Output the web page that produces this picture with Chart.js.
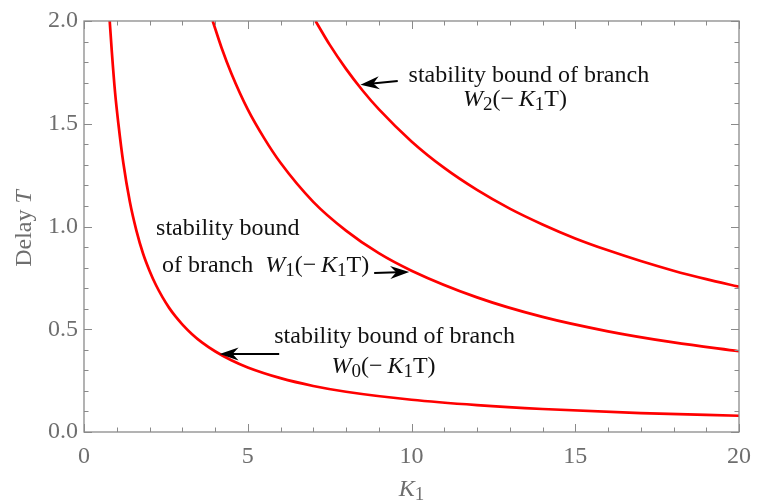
<!DOCTYPE html>
<html>
<head>
<meta charset="utf-8">
<script src="https://cdn.jsdelivr.net/npm/chart.js@4.4.1/dist/chart.umd.min.js"></script>
<style>
  html, body { margin: 0; padding: 0; background: #fff; }
  #wrap { width: 761px; height: 502px; }
</style>
</head>
<body>
<div id="wrap"><canvas id="chart"></canvas></div>
<script>
// valores (K1 -> atraso T)
const k0 = [0.785, 0.85, 0.95, 1.05, 1.2, 1.4, 1.6, 1.8, 2.0, 2.2, 2.4, 2.6, 2.8, 3.0, 3.3, 3.6, 4.0, 4.5, 5, 6, 7, 8, 10, 12, 14, 17, 20];
const t0 = [2.0, 1.85, 1.65, 1.5, 1.31, 1.12, 0.98, 0.87, 0.785, 0.714, 0.655, 0.604, 0.561, 0.524, 0.476, 0.436, 0.393, 0.349, 0.314, 0.262, 0.224, 0.196, 0.157, 0.131, 0.112, 0.092, 0.079];

const k1 = [3.93, 4.2, 4.5, 5, 5.5, 6, 7, 8, 9, 10, 12, 14, 16, 18, 20];
const t1 = [2.0, 1.87, 1.745, 1.57, 1.43, 1.31, 1.12, 0.98, 0.87, 0.785, 0.655, 0.56, 0.49, 0.436, 0.393];

const k2 = [7.07, 7.5, 8, 8.5, 9, 10, 11, 12, 13, 14, 15, 16, 17, 18, 19, 20];
const t2 = [2.0, 1.885, 1.767, 1.663, 1.571, 1.414, 1.285, 1.178, 1.087, 1.01, 0.942, 0.884, 0.832, 0.785, 0.744, 0.707];

const xTicks = [0, 5, 10, 15, 20];
const yTicks = [0, 0.5, 1, 1.5, 2];

const pts = (ks, ts) => ks.map((k, i) => ({ x: k, y: ts[i] }));

// textos das anotações: [texto, estilo] (i = itálico, s = subscrito)
const expr = n => [['W', 'i'], [n, 's'], ['(\u2212\u2009', ''], ['K', 'i'], ['1', 's'], ['T)', '']];
const notes = [
  { x: 9.91, y: 1.703, parts: [['stability bound of branch', '']] },
  { x: 11.57, y: 1.586, parts: expr('2') },
  { x: 2.20, y: 0.959, parts: [['stability bound', '']] },
  { x: 2.38, y: 0.779, parts: [['of branch\u2002', '']].concat(expr('1')) },
  { x: 5.81, y: 0.433, parts: [['stability bound of branch', '']] },
  { x: 7.56, y: 0.287, parts: expr('0') }
];
// setas: [x0, y0, x1, y1] (cauda -> ponta)
const arrows = [
  [9.58, 1.708, 8.44, 1.690],
  [8.86, 0.774, 9.93, 0.779],
  [5.96, 0.380, 4.14, 0.380]
];

const FONT = 'Liberation Serif';
const SIZE = 24;
Chart.defaults.font.family = '"Liberation Serif", serif';

function drawRich(ctx, parts, x, y, color, align) {
  const fontOf = st => {
    const sz = st === 's' ? Math.round(SIZE * 0.8) : SIZE;
    return (st === 'i' ? 'italic ' : '') + sz + 'px "' + FONT + '"';
  };
  let w = 0;
  parts.forEach(([t, st]) => { ctx.font = fontOf(st); w += ctx.measureText(t).width; });
  let cx = align === 'center' ? x - w / 2 : x;
  ctx.fillStyle = color;
  ctx.textBaseline = 'alphabetic';
  ctx.textAlign = 'left';
  parts.forEach(([t, st]) => {
    ctx.font = fontOf(st);
    ctx.fillText(t, cx, st === 's' ? y + 4 : y);
    cx += ctx.measureText(t).width;
  });
}

function arrowHead(ctx, x0, y0, x1, y1) {
  const a = Math.atan2(y1 - y0, x1 - x0);
  const len = 19, half = 6.5, back = 13;
  ctx.save();
  ctx.translate(x1, y1);
  ctx.rotate(a);
  ctx.beginPath();
  ctx.moveTo(0, 0);
  ctx.lineTo(-len, -half);
  ctx.lineTo(-back, 0);
  ctx.lineTo(-len, half);
  ctx.closePath();
  ctx.fill();
  ctx.restore();
}

const decor = {
  id: 'decor',
  afterDraw(chart) {
    const { ctx, chartArea: a, scales: { x, y } } = chart;
    ctx.save();
    // moldura e marcas para dentro
    ctx.strokeStyle = '#8a8a8a';
    ctx.lineWidth = 1.3;
    ctx.strokeRect(a.left, a.top, a.right - a.left, a.bottom - a.top);
    ctx.lineWidth = 1;
    ctx.beginPath();
    for (let v = 0; v <= 20; v++) {
      const px = Math.round(x.getPixelForValue(v)) + 0.5;
      const l = v % 5 === 0 ? 8 : 4.5;
      ctx.moveTo(px, a.bottom); ctx.lineTo(px, a.bottom - l);
      ctx.moveTo(px, a.top); ctx.lineTo(px, a.top + l);
    }
    for (let i = 0; i <= 20; i++) {
      const py = Math.round(y.getPixelForValue(i / 10)) + 0.5;
      const l = i % 5 === 0 ? 8 : 4.5;
      ctx.moveTo(a.left, py); ctx.lineTo(a.left + l, py);
      ctx.moveTo(a.right, py); ctx.lineTo(a.right - l, py);
    }
    ctx.stroke();

    // títulos dos eixos
    drawRich(ctx, [['K', 'i'], ['1', 's']], (a.left + a.right) / 2, 496, '#6e6e6e', 'center');
    ctx.translate(31, (a.top + a.bottom) / 2 + 2);
    ctx.rotate(-Math.PI / 2);
    drawRich(ctx, [['Delay ', ''], ['T', 'i']], 0, 0, '#6e6e6e', 'center');
    ctx.restore();

    // anotações
    ctx.save();
    notes.forEach(n => drawRich(ctx, n.parts, x.getPixelForValue(n.x), y.getPixelForValue(n.y), '#111', 'left'));
    ctx.strokeStyle = '#000';
    ctx.fillStyle = '#000';
    ctx.lineWidth = 2;
    arrows.forEach(([a0, b0, a1, b1]) => {
      const X0 = x.getPixelForValue(a0), Y0 = y.getPixelForValue(b0);
      const X1 = x.getPixelForValue(a1), Y1 = y.getPixelForValue(b1);
      const d = Math.hypot(X1 - X0, Y1 - Y0);
      const f = 12 / d;
      ctx.beginPath();
      ctx.moveTo(X0, Y0);
      ctx.lineTo(X1 + (X0 - X1) * f, Y1 + (Y0 - Y1) * f);
      ctx.stroke();
      arrowHead(ctx, X0, Y0, X1, Y1);
    });
    ctx.restore();
  }
};

const curve = data => ({
  data,
  borderColor: '#ff0000',
  borderWidth: 2.7,
  pointRadius: 0,
  fill: false,
  cubicInterpolationMode: 'monotone'
});

new Chart(document.getElementById('chart'), {
  type: 'line',
  data: {
    datasets: [curve(pts(k0, t0)), curve(pts(k1, t1)), curve(pts(k2, t2))]
  },
  options: {
    responsive: true,
    maintainAspectRatio: false,
    animation: false,
    events: [],
    layout: { padding: { left: 0, top: 21, right: 13, bottom: 0 } },
    plugins: { legend: { display: false }, tooltip: { enabled: false } },
    scales: {
      x: {
        type: 'linear', min: 0, max: 20,
        afterFit: s => { s.height = 70; },
        afterBuildTicks: s => { s.ticks = xTicks.map(v => ({ value: v })); },
        grid: { display: false, drawTicks: false },
        border: { display: false },
        ticks: { padding: 10, color: '#6e6e6e', font: { size: SIZE }, maxRotation: 0 }
      },
      y: {
        min: 0, max: 2,
        afterFit: s => { s.width = 84; },
        afterBuildTicks: s => { s.ticks = yTicks.map(v => ({ value: v })); },
        grid: { display: false, drawTicks: false },
        border: { display: false },
        ticks: { padding: 6, color: '#6e6e6e', font: { size: SIZE }, callback: v => v.toFixed(1) }
      }
    }
  },
  plugins: [decor]
});
</script>
</body>
</html>
